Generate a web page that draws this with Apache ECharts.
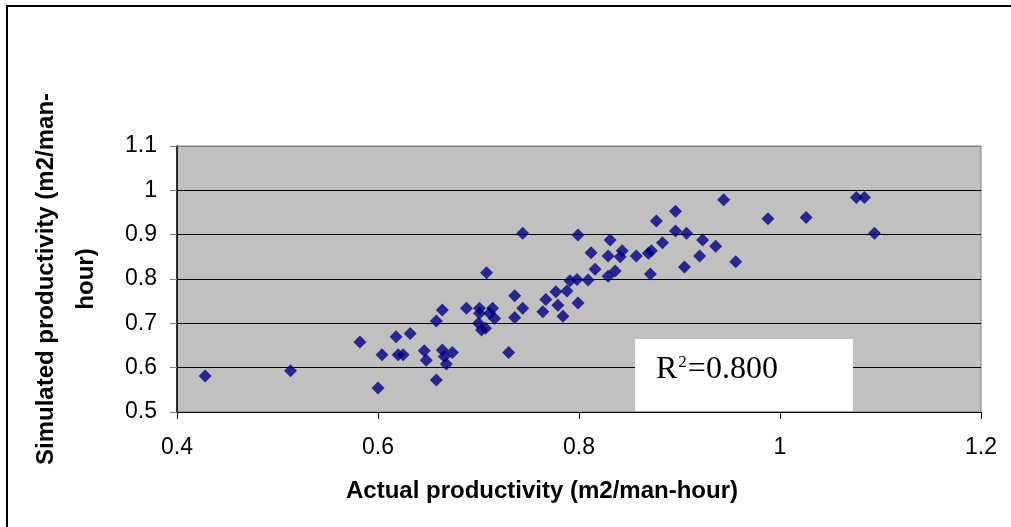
<!DOCTYPE html>
<html>
<head>
<meta charset="utf-8">
<title>Actual vs simulated productivity</title>
<script src="https://cdn.jsdelivr.net/npm/echarts@6/dist/echarts.min.js"></script>
<style>
	html, body { margin: 0; padding: 0; background: #fff; }
	#chart { width: 1011px; height: 527px; }
</style>
</head>
<body>
<div id="chart"></div>
<script>
// data
var actualValues = [
	0.428, 0.513, 0.582, 0.600, 0.604, 0.618, 0.620, 0.625, 0.632, 0.646,
	0.648, 0.658, 0.664, 0.658, 0.664, 0.666, 0.668, 0.674, 0.688, 0.701,
	0.701, 0.714, 0.711, 0.716, 0.700, 0.703, 0.707, 0.708, 0.730, 0.736,
	0.736, 0.744, 0.744, 0.764, 0.767, 0.777, 0.779, 0.784, 0.788, 0.791,
	0.798, 0.799, 0.799, 0.809, 0.812, 0.816, 0.829, 0.829, 0.836, 0.831,
	0.841, 0.843, 0.857, 0.869, 0.872, 0.871, 0.877, 0.883, 0.896, 0.896,
	0.907, 0.905, 0.920, 0.923, 0.936, 0.944, 0.956, 0.988, 1.026, 1.076,
	1.084, 1.094
];
var simulatedValues = [
	0.581, 0.593, 0.658, 0.554, 0.629, 0.670, 0.629, 0.629, 0.677, 0.638,
	0.617, 0.705, 0.730, 0.572, 0.640, 0.625, 0.608, 0.634, 0.734, 0.734,
	0.723, 0.734, 0.723, 0.711, 0.700, 0.685, 0.689, 0.814, 0.634, 0.762,
	0.713, 0.734, 0.903, 0.726, 0.754, 0.771, 0.741, 0.716, 0.773, 0.796,
	0.799, 0.746, 0.899, 0.798, 0.859, 0.822, 0.852, 0.806, 0.818, 0.888,
	0.850, 0.864, 0.852, 0.858, 0.864, 0.811, 0.931, 0.882, 0.953, 0.908,
	0.903, 0.827, 0.852, 0.888, 0.874, 0.979, 0.839, 0.936, 0.939, 0.984,
	0.984, 0.903
];
var xTicks = [0.4, 1.2, 0.2];   // min, max, interval
var yTicks = [0.5, 1.1, 0.1];
var rSquared = '0.800';

var points = [];
for (var i = 0; i < actualValues.length; i++) {
	points.push([actualValues[i], simulatedValues[i]]);
}

var labelFont = '"Liberation Sans", Arial, sans-serif';
var myChart = echarts.init(document.getElementById('chart'));
var option = {
	backgroundColor: '#fff',
	animation: false,
	grid: {
		left: 177,
		top: 146,
		right: 30,
		bottom: 115,
		show: true,
		backgroundColor: '#c0c0c0',
		borderColor: '#808080',
		borderWidth: 1
	},
	xAxis: {
		type: 'value',
		min: xTicks[0],
		max: xTicks[1],
		interval: xTicks[2],
		axisLine: { lineStyle: { color: '#000', width: 1 } },
		axisTick: { show: true, length: 7, inside: false, lineStyle: { color: '#000' } },
		axisLabel: { color: '#000', fontSize: 23, fontFamily: labelFont, margin: 24 },
		splitLine: { show: false }
	},
	yAxis: {
		type: 'value',
		min: yTicks[0],
		max: yTicks[1],
		interval: yTicks[2],
		axisLine: { show: true, lineStyle: { color: '#000', width: 1.5 } },
		axisTick: { show: true, length: 7, inside: false, lineStyle: { color: '#808080' } },
		axisLabel: { color: '#000', fontSize: 23, fontFamily: labelFont, margin: 20 },
		splitLine: {
			show: true,
			lineStyle: { color: ['#000', '#000', '#000', '#000', '#000', '#000', '#808080'], width: 1 }
		}
	},
	graphic: [
		{
			// outer frame (only left and top are visible in the picture)
			type: 'rect',
			shape: { x: 7, y: 6, width: 1030, height: 560 },
			style: { fill: null, stroke: '#000', lineWidth: 2 },
			silent: true
		},
		{
			type: 'text',
			x: 66,
			y: 279,
			rotation: Math.PI / 2,
			style: {
				text: 'Simulated productivity (m2/man-\nhour)',
				font: 'bold 24px "Liberation Sans", Arial, sans-serif',
				fill: '#000',
				align: 'center',
				verticalAlign: 'middle',
				lineHeight: 40
			}
		},
		{
			type: 'text',
			x: 542,
			y: 491,
			style: {
				text: 'Actual productivity (m2/man-hour)',
				font: 'bold 24px "Liberation Sans", Arial, sans-serif',
				fill: '#000',
				align: 'center',
				verticalAlign: 'middle'
			}
		},
		{
			type: 'rect',
			z: 10,
			shape: { x: 635, y: 339, width: 218, height: 72 },
			style: { fill: '#fff', stroke: null }
		},
		{
			type: 'text',
			z: 11,
			x: 656,
			y: 370,
			style: {
				text: '{a|R}{s|2}{a|=' + rSquared + '}',
				verticalAlign: 'middle',
				rich: {
					a: { fontFamily: '"Liberation Serif", "Times New Roman", serif', fontSize: 32, fill: '#000' },
					s: { fontFamily: '"Liberation Serif", "Times New Roman", serif', fontSize: 17, fill: '#000', padding: [0, 1, 15, 1] }
				}
			}
		}
	],
	series: [{
		name: 'productivity',
		type: 'scatter',
		symbol: 'diamond',
		symbolSize: 13,
		itemStyle: { color: '#000080' },
		data: points
	}]
};
myChart.setOption(option);
</script>
</body>
</html>
